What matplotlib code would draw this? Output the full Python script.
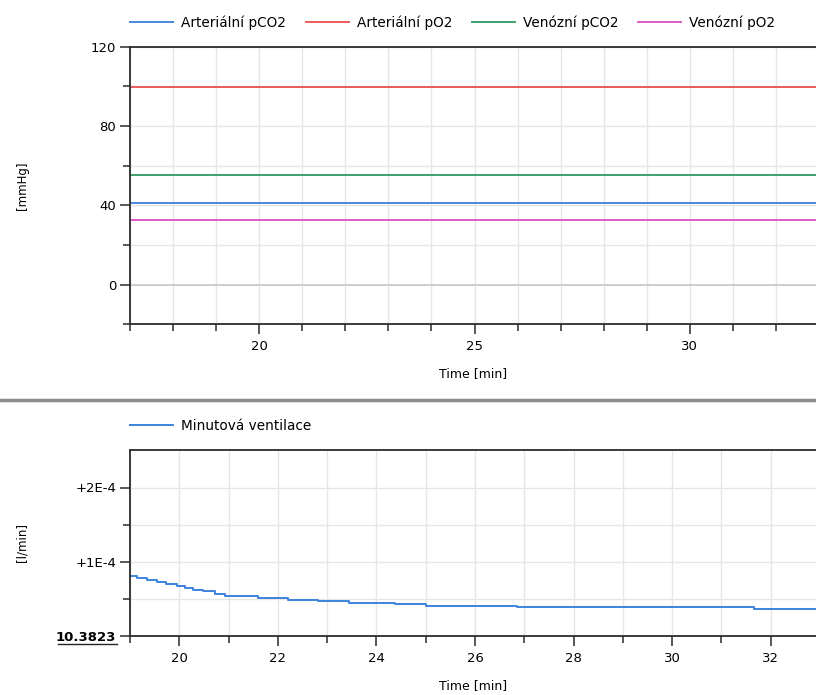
import matplotlib
matplotlib.use("Agg")
import matplotlib.pyplot as plt
from matplotlib.lines import Line2D
from matplotlib.ticker import MultipleLocator, FixedLocator

plt.rcParams['font.family'] = ['DejaVu Sans']

# top panel: blood gases [mmHg], constant over the shown window
gas_names = ["Arteriální pCO2", "Arteriální pO2", "Venózní pCO2", "Venózní pO2"]
gas_values = [41.2, 99.5, 55.3, 32.4]
gas_colors = ["#4a88dc", "#ec5a5a", "#3f9f6c", "#de5ccc"]
gas_time = [17.0, 33.0]

# bottom panel: minute ventilation, offset from 10.3823 l/min (in 1E-4 units)
vent_base = 10.3823
vent_time = [19.0, 19.14, 19.34, 19.54, 19.74, 19.95, 20.12, 20.28, 20.49, 20.72,
             20.93, 21.6, 22.21, 22.82, 23.45, 24.37, 25.0, 26.85, 31.67, 33.0]
vent_offset = [0.817, 0.787, 0.751, 0.728, 0.706, 0.675, 0.653, 0.627, 0.604, 0.573,
               0.537, 0.511, 0.488, 0.471, 0.453, 0.431, 0.413, 0.395, 0.368, 0.368]

W, H = 816, 695
fig = plt.figure(figsize=(W / 100, H / 100), dpi=100)

fs = 9.8
grid_c = "#e6e6e6"
axis_c = "#2b2b2b"


def style_axes(ax):
    for side in ["left", "bottom", "top"]:
        ax.spines[side].set_color(axis_c)
        ax.spines[side].set_linewidth(1.3)
    ax.spines["right"].set_visible(False)
    ax.tick_params(which="major", length=7, width=1.1, color=axis_c, labelsize=fs - 0.3, pad=3)
    ax.tick_params(axis="x", which="major", pad=4.5)
    ax.tick_params(which="minor", length=5, width=1.1, color=axis_c)
    ax.grid(True, which="both", color=grid_c, linewidth=1.0)
    ax.set_axisbelow(True)


# ---- top panel ----
ax1 = fig.add_axes([130 / W, 1 - 324.3 / H, 1 - 130 / W, (324.3 - 46.7) / H])
for name, val, col in zip(gas_names, gas_values, gas_colors):
    ax1.plot(gas_time, [val, val], color=col, lw=1.4, label=name)
ax1.axhline(0, color="#c8c8c8", lw=1.2, zorder=1)
ax1.set_xlim(17.0, 32.93)
ax1.set_ylim(-20, 120)
ax1.xaxis.set_major_locator(FixedLocator([20, 25, 30]))
ax1.xaxis.set_minor_locator(MultipleLocator(1))
ax1.yaxis.set_major_locator(MultipleLocator(40))
ax1.yaxis.set_minor_locator(MultipleLocator(20))
style_axes(ax1)
ax1.set_xlabel("Time [min]", fontsize=fs - 0.8, labelpad=10)
ax1.legend(loc="center left", bbox_to_anchor=(0, 1 + 24 / 277.6), ncol=4, frameon=False,
           fontsize=fs, handlelength=3.15, handletextpad=0.6, columnspacing=1.45,
           borderpad=0, borderaxespad=0)

# ---- bottom panel ----
ax2 = fig.add_axes([130 / W, 1 - 636.3 / H, 1 - 130 / W, (636.3 - 450.3) / H])
ax2.plot(vent_time, vent_offset, color="#3d82dc", lw=1.4, drawstyle="steps-post",
         label="Minutová ventilace")
ax2.set_xlim(19.0, 32.92)
ax2.set_ylim(0, 2.5)
ax2.xaxis.set_major_locator(MultipleLocator(2))
ax2.xaxis.set_minor_locator(MultipleLocator(1))
ax2.yaxis.set_major_locator(FixedLocator([0, 1, 2]))
ax2.yaxis.set_minor_locator(FixedLocator([0.5, 1.5]))
ax2.set_yticklabels([f"{vent_base:.4f}", "+1E-4", "+2E-4"])
style_axes(ax2)
base_lbl = ax2.get_yticklabels()[0]
base_lbl.set_fontweight("bold")
ax2.set_xlabel("Time [min]", fontsize=fs - 0.8, labelpad=10)
ax2.legend(loc="center left", bbox_to_anchor=(0, 1 + 24.6 / 186), frameon=False,
           fontsize=fs, handlelength=3.15, handletextpad=0.6, borderpad=0, borderaxespad=0)

# underline under the base value label
fig.add_artist(Line2D([58 / W, 117 / W], [1 - 644 / H, 1 - 644 / H], color="#222222", lw=1.0))

# y-axis unit labels
fig.text(22 / W, 1 - 185.5 / H, "[mmHg]", rotation=90, ha="center", va="center", fontsize=8.5)
fig.text(22 / W, 1 - 543 / H, "[l/min]", rotation=90, ha="center", va="center", fontsize=8.5)

# separator between the two plots
fig.add_artist(Line2D([0, 1], [1 - 400 / H, 1 - 400 / H], color="#8c8c8c", lw=2.5))

fig.savefig("out.png", dpi=100)
